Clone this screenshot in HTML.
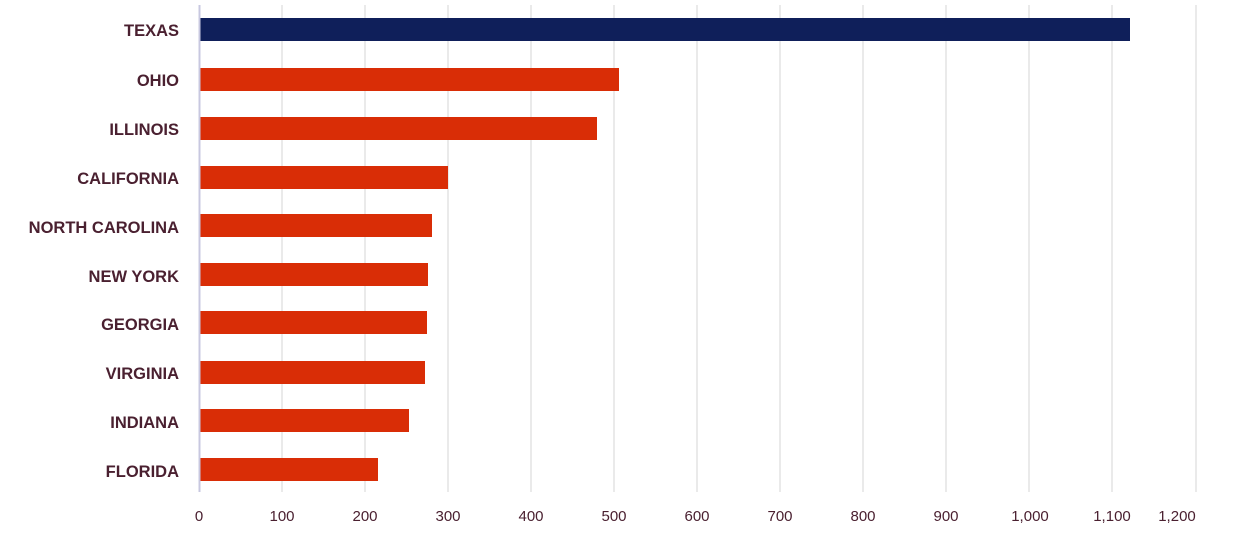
<!DOCTYPE html><html><head><style>body{margin:0;background:#fff;width:1248px;height:536px;overflow:hidden}</style></head><body>
<svg width="1248" height="536" xmlns="http://www.w3.org/2000/svg" font-family="Liberation Sans, sans-serif">
<g stroke="#d4d4d4" stroke-width="1">
<line x1="282" y1="5" x2="282" y2="492"/><line x1="365" y1="5" x2="365" y2="492"/><line x1="448" y1="5" x2="448" y2="492"/><line x1="531" y1="5" x2="531" y2="492"/><line x1="614" y1="5" x2="614" y2="492"/><line x1="697" y1="5" x2="697" y2="492"/><line x1="780" y1="5" x2="780" y2="492"/><line x1="863" y1="5" x2="863" y2="492"/><line x1="946" y1="5" x2="946" y2="492"/><line x1="1029" y1="5" x2="1029" y2="492"/><line x1="1112" y1="5" x2="1112" y2="492"/><line x1="1196" y1="5" x2="1196" y2="492"/>
</g>
<rect x="199" y="18" width="931" height="23" fill="#0f1f5a"/>
<g fill="#d92d06">
<rect x="199" y="68" width="420" height="23"/><rect x="199" y="117" width="398" height="23"/><rect x="199" y="166" width="249" height="23"/><rect x="199" y="214" width="233" height="23"/><rect x="199" y="263" width="229" height="23"/><rect x="199" y="311" width="228" height="23"/><rect x="199" y="361" width="226" height="23"/><rect x="199" y="409" width="210" height="23"/><rect x="199" y="458" width="179" height="23"/>
</g>
<line x1="199.5" y1="5" x2="199.5" y2="492" stroke="#c8c8e0" stroke-width="2"/>
<g fill="#4a2030" font-size="16.5" font-weight="bold" text-anchor="end">
<text x="179" y="36">TEXAS</text><text x="179" y="86">OHIO</text><text x="179" y="135">ILLINOIS</text><text x="179" y="184">CALIFORNIA</text><text x="179" y="233">NORTH CAROLINA</text><text x="179" y="282">NEW YORK</text><text x="179" y="330">GEORGIA</text><text x="179" y="379">VIRGINIA</text><text x="179" y="428">INDIANA</text><text x="179" y="477">FLORIDA</text>
</g>
<g fill="#4a2030" font-size="15" text-anchor="middle">
<text x="199" y="521">0</text><text x="282" y="521">100</text><text x="365" y="521">200</text><text x="448" y="521">300</text><text x="531" y="521">400</text><text x="614" y="521">500</text><text x="697" y="521">600</text><text x="780" y="521">700</text><text x="863" y="521">800</text><text x="946" y="521">900</text><text x="1030" y="521">1,000</text><text x="1112" y="521">1,100</text><text x="1177" y="521">1,200</text>
</g>
</svg></body></html>
